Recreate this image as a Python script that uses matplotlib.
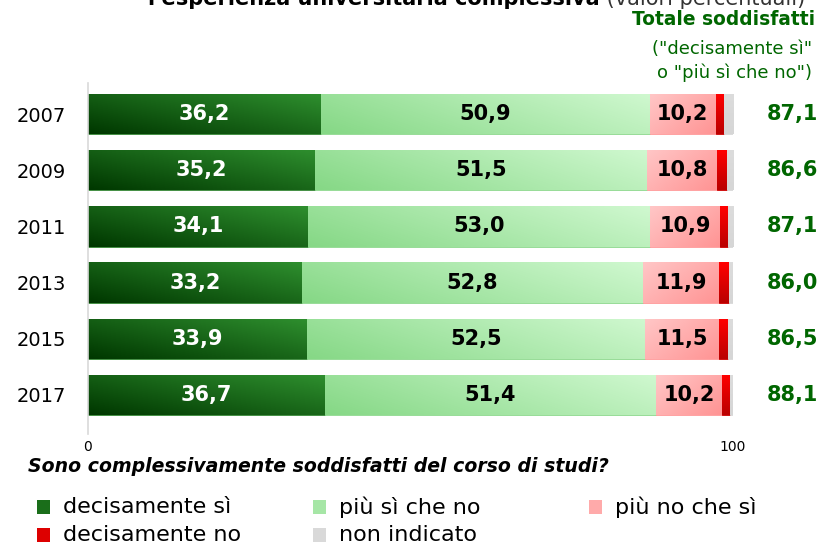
import matplotlib
matplotlib.use("Agg")
import matplotlib.pyplot as plt
import numpy as np
from matplotlib.colors import LinearSegmentedColormap
from matplotlib.patches import Rectangle

plt.rcParams['font.family'] = ['DejaVu Sans']

years = ["2007", "2009", "2011", "2013", "2015", "2017"]
decisamente_si = [36.2, 35.2, 34.1, 33.2, 33.9, 36.7]
piu_si = [50.9, 51.5, 53.0, 52.8, 52.5, 51.4]
piu_no = [10.2, 10.8, 10.9, 11.9, 11.5, 10.2]
decisamente_no = [1.3, 1.5, 1.2, 1.5, 1.4, 1.3]
non_indicato = [1.4, 1.0, 0.8, 0.6, 0.7, 0.4]
totale = ["87,1", "86,6", "87,1", "86,0", "86,5", "88,1"]

series = [decisamente_si, piu_si, piu_no, decisamente_no, non_indicato]
names = ["decisamente sì", "più sì che no", "più no che sì", "decisamente no", "non indicato"]
# gradient colours (dark, light)
grads = [("#003800", "#2e8e2e"), ("#86d886", "#cff8cf"), ("#ff9494", "#ffc6c6"),
         ("#bb0000", "#ff0000"), ("#d6d6d6", "#dcdcdc")]
solid = ["#1a6e1a", "#a6e6a6", "#ffaaaa", "#dd0000", "#d9d9d9"]
edge = ["#3a8a3a", "#8ed88e", "#ff9a9a", "#cc0000", "#d9d9d9"]

fig = plt.figure(figsize=(8.2, 5.44), dpi=100)
ax = fig.add_axes([88/820, 1-423/544, (733-88)/820, (423-86)/544])

y = np.arange(len(years))
h = 0.72
left = np.zeros(len(years))
gx, gy = np.meshgrid(np.linspace(0, 1, 64), np.linspace(0, 1, 16))
for i, vals in enumerate(series):
    bars = ax.barh(y, vals, left=left, height=h, color=solid[i], edgecolor=edge[i], linewidth=0.6, zorder=2)
    cmap = LinearSegmentedColormap.from_list("g%d" % i, [grads[i][0], grads[i][1]])
    if i == 0:
        z = 0.55 * gx + 0.45 * (1 - gy)
    elif i == 1:
        z = 0.75 * gx + 0.25 * (1 - gy)
    elif i == 2:
        z = 1 - (0.6 * gx + 0.4 * gy)
    else:
        z = 1 - gy
    for b in bars:
        x0, y0 = b.get_x(), b.get_y()
        w, hh = b.get_width(), b.get_height()
        im = ax.imshow(z, cmap=cmap, vmin=0, vmax=1, extent=(x0, x0 + w, y0 + hh, y0), aspect='auto',
                       origin='upper', zorder=2.5, interpolation='bilinear')
        im.set_clip_path(b)
    left = left + np.array(vals)

ax.set_xlim(0, 100)
ax.set_ylim(len(years) - 0.5, -0.5)
ax.set_aspect('auto')

def fmt(v):
    return ("%.1f" % v).replace(".", ",")

for j in range(len(years)):
    ax.text(decisamente_si[j] / 2, y[j], fmt(decisamente_si[j]), ha='center', va='center',
            color='white', fontsize=15, fontweight='bold', zorder=5)
    ax.text(decisamente_si[j] + piu_si[j] / 2, y[j], fmt(piu_si[j]), ha='center', va='center',
            color='black', fontsize=15, fontweight='bold', zorder=5)
    ax.text(decisamente_si[j] + piu_si[j] + piu_no[j] / 2, y[j], fmt(piu_no[j]), ha='center', va='center',
            color='black', fontsize=15, fontweight='bold', zorder=5)
    ax.text(1.0 + (818 - 733) / (733 - 88), y[j], totale[j], transform=ax.get_yaxis_transform(),
            ha='right', va='center', color='#006600', fontsize=15, fontweight='bold')

ax.set_yticks(y)
ax.set_yticklabels(years, fontsize=14)
ax.tick_params(axis='y', length=0, pad=16)
ax.set_xticks([0, 100])
ax.set_xticklabels(["0", "100"], fontsize=10)
ax.tick_params(axis='x', length=0, pad=12)
for s in ['top', 'right', 'bottom']:
    ax.spines[s].set_visible(False)
ax.spines['left'].set_color('#d9d9d9')
ax.spines['left'].set_linewidth(1.2)
ax.spines['left'].set_bounds(-0.55, len(years) - 0.3)

# header texts
fig.text(600/820, 1 - 5/544, "l'esperienza universitaria complessiva", ha='right', va='baseline',
         fontsize=15, fontweight='bold', color='black')
fig.text(600/820, 1 - 5/544, " (valori percentuali)", ha='left', va='baseline',
         fontsize=15, color='#333333')
fig.text(815/820, 1 - 25/544, "Totale soddisfatti", ha='right', va='baseline',
         fontsize=13.4, fontweight='bold', color='#006600')
fig.text(812/820, 1 - 54/544, "(\"decisamente sì\"", ha='right', va='baseline',
         fontsize=13, color='#006600')
fig.text(812/820, 1 - 78/544, "o \"più sì che no\")", ha='right', va='baseline',
         fontsize=13, color='#006600')

fig.text(28/820, 1 - 466/544, "Sono complessivamente soddisfatti del corso di studi?", ha='left',
         va='center', fontsize=13.6, fontweight='bold', fontstyle='italic', color='black')

# legend
lx = [37, 313, 589]
ly = [507, 535]
for k, nm in enumerate(names):
    r, c = divmod(k, 3)
    x = lx[c] / 820
    yy = 1 - ly[r] / 544
    fig.patches.append(Rectangle((x, yy - 7/544), 13/820, 14/544, transform=fig.transFigure,
                                 facecolor=solid[k], edgecolor='none'))
    fig.text(x + 26/820, yy, nm, ha='left', va='center', fontsize=16, color='black')

fig.savefig("out.png", dpi=100)
